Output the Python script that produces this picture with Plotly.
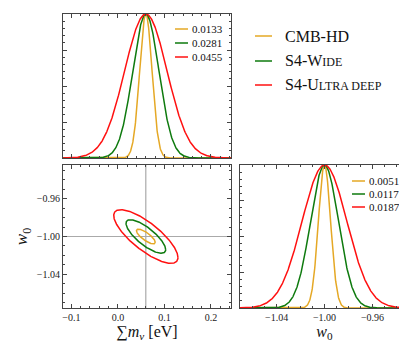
import numpy as np
import plotly.graph_objects as go

# --- data ---
experiments = ["CMB-HD", "S4-Wide", "S4-Ultra deep"]
legend_names = ["CMB-HD",
                "S4-W<span style='font-size:12px'>IDE</span>",
                "S4-U<span style='font-size:12px'>LTRA DEEP</span>"]
colors = ["#E5A825", "#0E7A0E", "#FF1010"]
sigma_mnu = [0.0133, 0.0281, 0.0455]
sigma_w0 = [0.0051, 0.0117, 0.0187]
rho = [-0.78, -0.78, -0.78]
fid_mnu = 0.06
fid_w0 = -1.0
mnu_ticks = [-0.1, 0.0, 0.1, 0.2]
w0_ticks = [-1.04, -1.00, -0.96]

FONT = "Liberation Serif"
W, H = 407, 342

fig = go.Figure()

xm = np.linspace(-0.12, 0.245, 600)
xw = np.linspace(-1.075, -0.925, 600)
t = np.linspace(0, 2 * np.pi, 400)

for name, c, sm, sw, r in zip(experiments, colors, sigma_mnu, sigma_w0, rho):
    # 1D marginal for sum m_nu
    fig.add_trace(go.Scatter(x=xm, y=np.exp(-0.5 * ((xm - fid_mnu) / sm) ** 2),
                             mode="lines", line=dict(color=c, width=1.5),
                             xaxis="x", yaxis="y", showlegend=False, name=name))
    # 68% contour
    cov = np.array([[sm ** 2, r * sm * sw], [r * sm * sw, sw ** 2]])
    L = np.linalg.cholesky(cov)
    pts = np.sqrt(2.30) * L @ np.vstack([np.cos(t), np.sin(t)])
    fig.add_trace(go.Scatter(x=fid_mnu + pts[0], y=fid_w0 + pts[1],
                             mode="lines", line=dict(color=c, width=1.5),
                             xaxis="x2", yaxis="y2", showlegend=False, name=name))
    # 1D marginal for w0
    fig.add_trace(go.Scatter(x=xw, y=np.exp(-0.5 * ((xw - fid_w0) / sw) ** 2),
                             mode="lines", line=dict(color=c, width=1.5),
                             xaxis="x3", yaxis="y3", showlegend=False, name=name))

# panel domains (pixels -> paper)
def px_x(a, b):
    return [a / W, b / W]

def px_y(top, bot):
    return [1 - bot / H, 1 - top / H]

frame = dict(showline=True, linecolor="#444", linewidth=1, mirror="ticks",
             ticks="inside", ticklen=4, tickcolor="#444", showgrid=False,
             zeroline=False, tickfont=dict(family=FONT, size=10, color="#222"))
minor_kw = dict(ticks="inside", ticklen=2, tickcolor="#444")

fig.update_layout(
    width=W, height=H, margin=dict(l=0, r=0, t=0, b=0),
    paper_bgcolor="white", plot_bgcolor="white", showlegend=False,
    font=dict(family=FONT, color="#111"),
    xaxis=dict(frame, domain=px_x(55, 223), range=[-0.118, 0.243],
               tickvals=mnu_ticks, showticklabels=False, anchor="y",
               minor=dict(minor_kw, dtick=0.02)),
    yaxis=dict(frame, domain=px_y(6, 150), range=[0, 1.0],
               tickvals=[0.25, 0.5, 0.75], showticklabels=False, anchor="x",
               minor=dict(minor_kw, dtick=0.05)),
    xaxis2=dict(frame, domain=px_x(55, 223), range=[-0.118, 0.243],
                tickvals=mnu_ticks, ticktext=["\u22120.1", "0.0", "0.1", "0.2"],
                anchor="y2", minor=dict(minor_kw, dtick=0.02),
                title=dict(text="\u2211<i>m</i><sub><i>\u03bd</i></sub> [eV]",
                           font=dict(family=FONT, size=16), standoff=0)),
    yaxis2=dict(frame, domain=px_y(157, 300), range=[-1.0755, -0.9245],
                tickvals=w0_ticks, ticktext=["\u22121.04", "\u22121.00", "\u22120.96"],
                anchor="x2", minor=dict(minor_kw, dtick=0.01),
                title=dict(text="<i>w</i><sub>0</sub>",
                           font=dict(family=FONT, size=17), standoff=4)),
    xaxis3=dict(frame, domain=px_x(232, 401), range=[-1.0705, -0.9295],
                tickvals=w0_ticks, ticktext=["\u22121.04", "\u22121.00", "\u22120.96"],
                anchor="y3", minor=dict(minor_kw, dtick=0.01),
                title=dict(text="<i>w</i><sub>0</sub>",
                           font=dict(family=FONT, size=16), standoff=0)),
    yaxis3=dict(frame, domain=px_y(157, 300), range=[0, 1.0],
                tickvals=[0.25, 0.5, 0.75], showticklabels=False, anchor="x3",
                minor=dict(minor_kw, dtick=0.05)),
)

# crosshair at fiducial
fig.add_shape(type="line", xref="x2", yref="y2 domain", x0=fid_mnu, x1=fid_mnu,
              y0=0, y1=1, line=dict(color="#999", width=1), layer="below")
fig.add_shape(type="line", xref="x2 domain", yref="y2", x0=0, x1=1,
              y0=fid_w0, y1=fid_w0, line=dict(color="#aaa", width=1), layer="below")

# hand-made legends
def legend(x_line, x_text, y_rows, texts, size):
    for y, c, txt in zip(y_rows, colors, texts):
        fig.add_shape(type="line", xref="paper", yref="paper",
                      x0=x_line[0] / W, x1=x_line[1] / W, y0=1 - y / H, y1=1 - y / H,
                      line=dict(color=c, width=1.5))
        fig.add_annotation(xref="paper", yref="paper", x=x_text / W, y=1 - y / H,
                           text=txt, showarrow=False, xanchor="left", yanchor="middle",
                           font=dict(family=FONT, size=size, color="#111"))

legend((167, 180), 182, [21, 35, 49], [f"{s:.4f}" for s in sigma_mnu], 11)
legend((344, 357), 359, [173, 186, 199], [f"{s:.4f}" for s in sigma_w0], 11)
legend((247, 264), 275, [28, 53, 77], legend_names, 16)

fig.write_html("out.html")
